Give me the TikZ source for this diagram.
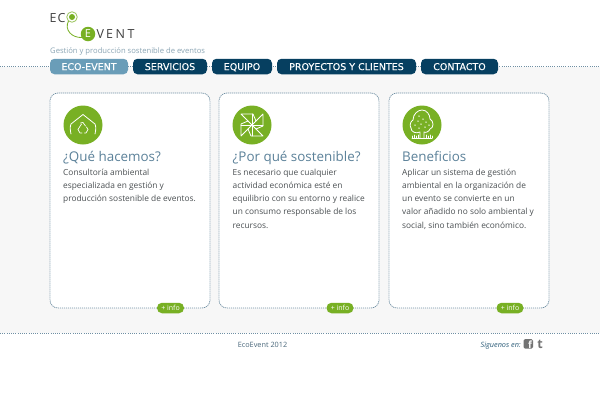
\documentclass[tikz,border=0pt]{standalone}
\usepackage{fontspec}
\setmainfont{Open Sans}
\newfontfamily\navfont[FakeBold=0.25]{DejaVu Sans}
\usetikzlibrary{calc}
\definecolor{navy}{HTML}{063F60}
\definecolor{navlight}{HTML}{6A9DB8}
\definecolor{leaf}{HTML}{78B024}
\definecolor{band}{HTML}{F7F7F7}
\definecolor{dotc}{HTML}{6F8FA3}
\definecolor{titlec}{HTML}{5B8199}
\definecolor{bodyc}{HTML}{4A4F52}
\definecolor{subc}{HTML}{8CA6B5}
\tikzset{
 x=1pt,y=-1pt,
 navpill/.style={rounded corners=4.5pt,fill=navy,text=white,minimum height=15.5pt,inner sep=0pt,text height=7.2pt,text depth=0pt,font=\navfont\fontsize{9.5}{12}\selectfont},
 dotline/.style={draw=dotc,line width=.7pt,dash pattern=on .8pt off 1.4pt},
 cardbox/.style={draw=dotc,fill=white,line width=.7pt,dash pattern=on 1.2pt off .8pt,rounded corners=8pt,minimum width=160pt,minimum height=215pt,inner sep=0pt},
 infopill/.style={rounded corners=5pt,fill=leaf,text=white,minimum width=27pt,minimum height=10.5pt,inner sep=0pt,font=\fontsize{7}{8}\selectfont},
 badge/.style={circle,fill=leaf,minimum size=39pt,inner sep=0pt},
 cardtitle/.style={anchor=base west,inner sep=0pt,text=titlec,font=\fontsize{13.4}{16}\selectfont},
 cardbody/.style={anchor=base west,inner sep=0pt,text=bodyc,font=\fontsize{8.35}{10}\selectfont},
 icon/.style={draw=white,line width=.8pt,line join=round,line cap=round},
}
\begin{document}
\begin{tikzpicture}
\useasboundingbox (0,0) rectangle (600,400);
\fill[white] (0,0) rectangle (600,400);
\fill[band] (0,67) rectangle (600,333);
% dotted rules
\coordinate (ruleL) at (0,66.7);
\coordinate (ruleR) at (600,66.7);
\coordinate (footL) at (0,333.5);
\coordinate (footR) at (600,333.5);
\draw[dotline] (footL) -- (footR);
\draw[dotline] (ruleL) -- (ruleR);
% nav
\node[navpill,fill=navlight,minimum width=78pt] (n1) at (89,66.5) {ECO-EVENT};
\node[navpill,minimum width=74pt] (n2) at (170,66.5) {SERVICIOS};
\node[navpill,minimum width=60pt] (n3) at (242,66.5) {EQUIPO};
\node[navpill,minimum width=139pt] (n4) at (346.5,66.5) {PROYECTOS Y CLIENTES};
\node[navpill,minimum width=77pt] (n5) at (459.5,66.5) {CONTACTO};
% logo
\node[anchor=base west,inner sep=0pt,text=black!75,font=\fontsize{12.5}{14}\selectfont] (ec) at (49.5,22) {E\kern1pt C};
\draw[leaf,line width=.8pt] (68.5,21) .. controls (64,30) and (72,38) .. (82,37.5);
\node[circle,draw=leaf!75,line width=.8pt,fill=white,minimum size=10.5pt,inner sep=0pt] (o1) at (72,17) {};
\node[circle,fill=leaf,minimum size=6pt,inner sep=0pt] (o2) at (72,17) {};
\node[circle,fill=leaf,minimum size=14.5pt,inner sep=0pt,text=white,font=\fontsize{11}{12}\selectfont] (o3) at (88,34) {E};
\node[anchor=base west,inner sep=0pt,text=black!75,font=\fontsize{12.5}{14}\selectfont] (vent) at (96.5,38) {V\kern2pt E\kern2.6pt N\kern2.6pt T};
\node[anchor=base west,inner sep=0pt,text=subc,font=\fontsize{7.65}{10}\selectfont] (tag) at (50,53) {Gestión y producción sostenible de eventos};
% cards
\node[cardbox] (c1) at (130,200.5) {};
\node[cardbox] (c2) at (299,200.5) {};
\node[cardbox] (c3) at (469,200.5) {};
\node[badge] (b1) at (83,125) {};
\node[badge] (b2) at (252,125) {};
\node[badge] (b3) at (422,125) {};
% house icon
\begin{scope}[shift={(b1)}]
\draw[icon] (-12,9) .. controls (-13,5) and (-13,1) .. (-12,-1) -- (0,-10.5) -- (12,-1) .. controls (13,1) and (13,5) .. (12,9);
\draw[icon,line width=.7pt] (-1.5,-1) -- (-5,4.5) -- (-3,8) -- (-1,8);
\draw[icon,line width=.7pt] (1.5,8) -- (3,8) -- (5,4.5) -- (3.5,2);
\draw[icon,line width=.7pt] (-2.5,-2) -- (0,-2.5) -- (2.5,1);
\end{scope}
% pinwheel icon
\foreach \a in {0,90,180,270}{
 \begin{scope}[shift={(b2)},rotate=\a]
 \draw[icon] (0,0) -- (-11,-11) -- (1,-11) -- (4,-4);
 \draw[icon] (0,-11) -- (0,0);
 \end{scope}}
% tree icon
\begin{scope}[shift={(b3)}]
\draw[icon] (-2,13) -- (-2,7) .. controls (-6,9) and (-11,7) .. (-11,3) .. controls (-13,0) and (-11,-4) .. (-9,-5) .. controls (-9,-11) and (-4,-15) .. (0,-15) .. controls (5,-15) and (8,-10) .. (8,-6) .. controls (12,-4) and (12,3) .. (8,4) .. controls (7,7) and (3,8) .. (2,7) -- (2,13);
\foreach \p/\q in {-3/-9,1/-6,-4/-4,4/-3,-1/-1,-7/0,3/2,7/0,-3/3}{\fill[white] (\p,\q) circle (.75pt);}
\draw[icon,line width=.6pt] (-10,13) -- (-10,11) (-8,13) -- (-8,10) (-6,13) -- (-6,11) (-4,13) -- (-4,10) (4,13) -- (4,10) (6,13) -- (6,11) (8,13) -- (8,10) (10,13) -- (10,11) (-10,13) -- (10,13);
\end{scope}
% card text
\node[cardtitle] (t1) at (63,161.5) {¿Qué hacemos?};
\node[cardbody] (l11) at (63,175) {Consultoría ambiental};
\node[cardbody] (l12) at (63,188.5) {especializada en gestión y};
\node[cardbody] (l13) at (63,201.5) {producción sostenible de eventos.};
\node[cardtitle] (t2) at (232.5,161.5) {¿Por qué sostenible?};
\node[cardbody] (l21) at (232.5,175) {Es necesario que cualquier};
\node[cardbody] (l22) at (232.5,188.5) {actividad económica esté en};
\node[cardbody] (l23) at (232.5,201.5) {equilibrio con su entorno y realice};
\node[cardbody] (l24) at (232.5,214.5) {un consumo responsable de los};
\node[cardbody] (l25) at (232.5,228) {recursos.};
\node[cardtitle] (t3) at (402,161.5) {Beneficios};
\node[cardbody] (l31) at (402,175) {Aplicar un sistema de gestión};
\node[cardbody] (l32) at (402,188.5) {ambiental en la organización de};
\node[cardbody] (l33) at (402,201.5) {un evento se convierte en un};
\node[cardbody] (l34) at (402,214.5) {valor añadido no solo ambiental y};
\node[cardbody] (l35) at (402,228) {social, sino también económico.};
% info pills
\node[infopill] (i1) at (170.5,308) {+ info};
\node[infopill] (i2) at (340,308) {+ info};
\node[infopill] (i3) at (510,308) {+ info};
% footer
\node[anchor=base,inner sep=0pt,text=titlec!80!black,font=\fontsize{7.3}{9}\selectfont] (foot) at (262.5,347) {EcoEvent 2012};
\node[anchor=base east,inner sep=0pt,text=navy!85,font=\fontsize{7.3}{9}\itshape\selectfont] (sig) at (521,347) {Siguenos en:};
\fill[black!55,rounded corners=1.5pt] (523.5,339) rectangle (533,348.5);
\node[anchor=base,inner sep=0pt,text=band,font=\fontsize{10}{10}\bfseries\selectfont] (fb) at (530,348.5) {f};
\node[anchor=base,inner sep=0pt,text=black!55,font=\fontsize{12.5}{12}\bfseries\selectfont] (tw) at (540,348) {t};
\end{tikzpicture}
\end{document}
